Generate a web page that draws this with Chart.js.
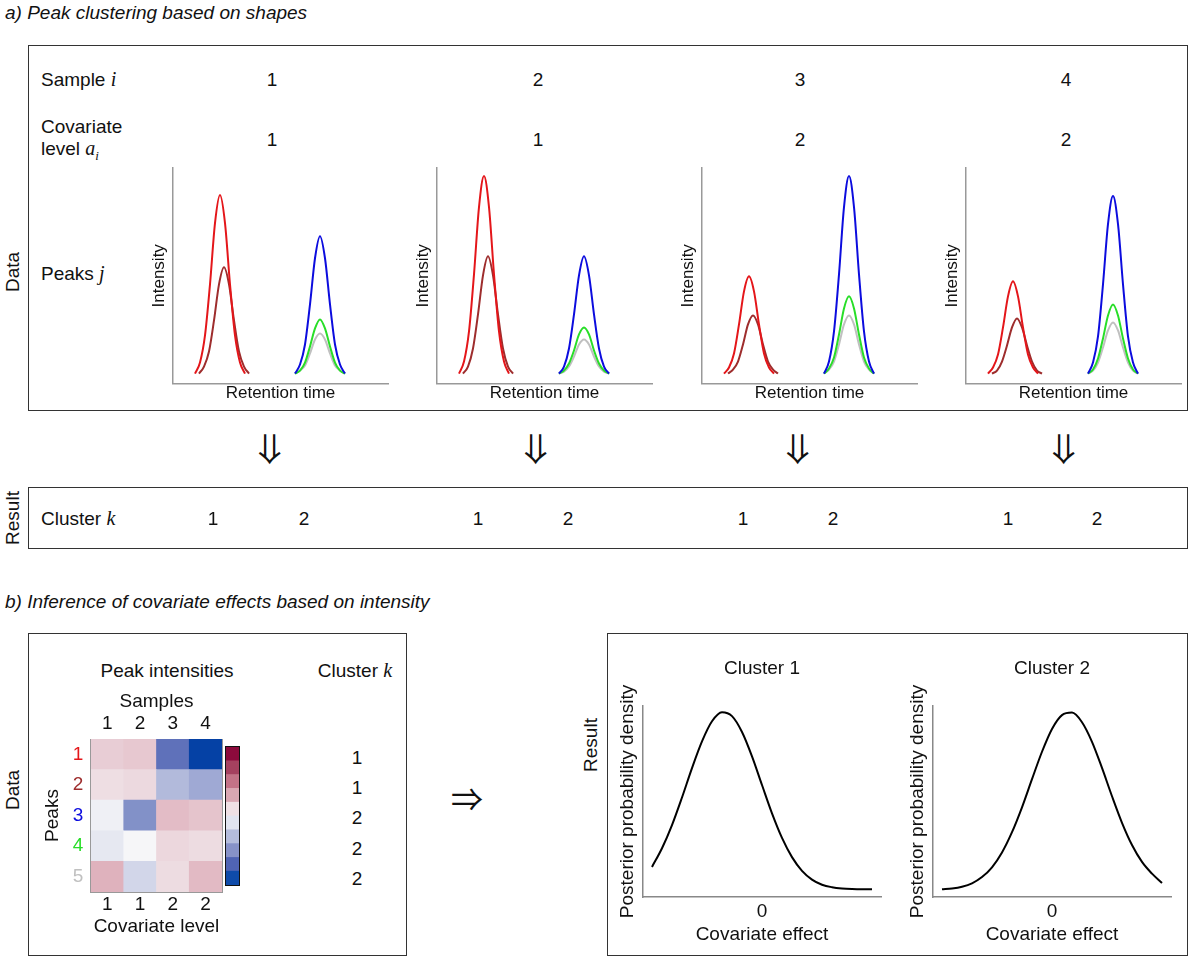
<!DOCTYPE html>
<html>
<head>
<meta charset="utf-8">
<script src="https://cdn.jsdelivr.net/npm/chart.js@4.4.1/dist/chart.umd.min.js"></script>
<style>
body{margin:0;background:#fff;}
#page{position:relative;width:1200px;height:959px;font-family:'Liberation Sans',Arial,sans-serif;font-size:19px;color:#111;overflow:hidden;}
.t{position:absolute;white-space:nowrap;transform:translate(-50%,-50%);line-height:1;}
.l{position:absolute;white-space:nowrap;transform:translate(0,-50%);line-height:1;}
.rot{position:absolute;white-space:nowrap;transform:translate(-50%,-50%) rotate(-90deg);line-height:1;}
.box{position:absolute;border:1px solid #333;}
.m{font-family:'Liberation Serif','DejaVu Serif',serif;font-style:italic;font-size:20px;}
.m sub{font-size:13px;}
.arr{position:absolute;white-space:nowrap;transform:translate(-50%,-50%);font-family:'Noto Sans CJK JP','DejaVu Sans';font-size:32px;line-height:1;}
.down{transform:translate(-50%,-50%) rotate(90deg);}
.cv{position:absolute;}
#cbar{position:absolute;left:225px;top:746px;width:13px;height:138px;border:1px solid #111;}
#cbar canvas{display:block;}
</style>
</head>
<body>
<div id="page">
  <div class="l" style="left:5px;top:12px;font-style:italic;">a) Peak clustering based on shapes</div>
  <div class="box" style="left:28px;top:45px;width:1158px;height:364px;"></div>
  <div class="rot" style="left:12px;top:272px;">Data</div>
  <div class="l" style="left:41px;top:79px;">Sample <span class="m">i</span></div>
  <div class="l" style="left:41px;top:126px;">Covariate</div>
  <div class="l" style="left:41px;top:150px;">level <span class="m">a<sub>i</sub></span></div>
  <div class="l" style="left:41px;top:273px;">Peaks <span class="m">j</span></div>

  <div class="box" style="left:28px;top:487px;width:1158px;height:60px;"></div>
  <div class="rot" style="left:12px;top:518px;">Result</div>
  <div class="l" style="left:41px;top:518px;">Cluster <span class="m">k</span></div>

  <div class="l" style="left:5px;top:601px;font-style:italic;">b) Inference of covariate effects based on intensity</div>
  <div class="box" style="left:28px;top:633px;width:377px;height:321px;"></div>
  <div class="rot" style="left:12px;top:790px;">Data</div>
  <div class="t" style="left:167px;top:670px;">Peak intensities</div>
  <div class="t" style="left:355px;top:670px;">Cluster <span class="m">k</span></div>
  <div class="arr" style="left:467px;top:797px;">&#8658;</div>
  <div class="box" style="left:607px;top:633px;width:579px;height:321px;"></div>
  <div class="rot" style="left:590px;top:745px;">Result</div>

  <canvas class="cv" id="peaks1" width="245" height="242" style="left:148px;top:166px;"></canvas>
  <canvas class="cv" id="peaks2" width="245" height="242" style="left:412px;top:166px;"></canvas>
  <canvas class="cv" id="peaks3" width="245" height="242" style="left:677px;top:166px;"></canvas>
  <canvas class="cv" id="peaks4" width="245" height="242" style="left:941px;top:166px;"></canvas>
  <canvas class="cv" id="heat" width="208" height="252" style="left:40px;top:686px;"></canvas>
  <div id="cbar"><canvas id="colorbar" width="13" height="138"></canvas></div>
  <canvas class="cv" id="post1" width="272" height="291" style="left:616px;top:655px;"></canvas>
  <canvas class="cv" id="post2" width="272" height="291" style="left:906px;top:655px;"></canvas>
</div>
<script>
// part a: the four samples
var sampleNames = ['1', '2', '3', '4'];
var sampleCovariate = ['1', '1', '2', '2'];
var sampleColumnX = [272, 538, 800, 1066];
var clusterPerSample = ['1', '2'];
var clusterColumnX = [[213, 304], [478, 568], [743, 833], [1008, 1097]];

// retention times of the sampled points (peak 1, peak 2, peaks 3-5)
var retentionFirst = [22, 27, 32, 37, 42, 47, 52, 57, 62, 67, 72];
var retentionFirstLate = [26, 31, 36, 41, 46, 51, 56, 61, 66, 71, 76];
var retentionSecond = [122, 127, 132, 137, 142, 147, 152, 157, 162, 167, 172];

var peakColors = ['rgb(228,22,26)', 'rgb(158,45,45)', 'rgb(12,12,222)', 'rgb(40,222,40)', 'rgb(192,192,192)'];

// intensity traces, peaks 1..5
var sample1Traces = [
	[0, 11, 38, 89, 150, 178, 150, 89, 38, 11, 0],
	[0, 7, 22, 53, 89, 106, 89, 53, 22, 7, 0],
	[0, 9, 29, 69, 115, 137, 115, 69, 29, 9, 0],
	[0, 3, 11, 27, 45, 54, 45, 27, 11, 3, 0],
	[0, 3, 8, 20, 34, 40, 34, 20, 8, 3, 0]
];
var sample2Traces = [
	[0, 12, 42, 99, 166, 197, 166, 99, 42, 12, 0],
	[0, 7, 25, 59, 98, 117, 98, 59, 25, 7, 0],
	[0, 7, 25, 59, 98, 117, 98, 59, 25, 7, 0],
	[0, 3, 10, 23, 39, 46, 39, 23, 10, 3, 0],
	[0, 2, 7, 17, 29, 34, 29, 17, 7, 2, 0]
];
var sample3Traces = [
	[0, 6, 20, 49, 82, 97, 82, 49, 20, 6, 0],
	[0, 4, 12, 29, 49, 58, 49, 29, 12, 4, 0],
	[0, 12, 42, 99, 166, 197, 166, 99, 42, 12, 0],
	[0, 5, 16, 39, 65, 77, 65, 39, 16, 5, 0],
	[0, 4, 12, 29, 49, 58, 49, 29, 12, 4, 0]
];
var sample4Traces = [
	[0, 6, 19, 46, 77, 92, 77, 46, 19, 6, 0],
	[0, 3, 12, 28, 46, 55, 46, 28, 12, 3, 0],
	[0, 11, 37, 89, 149, 177, 149, 89, 37, 11, 0],
	[0, 4, 15, 35, 58, 69, 58, 35, 15, 4, 0],
	[0, 3, 11, 26, 43, 51, 43, 26, 11, 3, 0]
];

// part b: peak intensity matrix (rows = peaks, columns = samples)
var peakLabels = ['1', '2', '3', '4', '5'];
var clusterOfPeak = ['1', '1', '2', '2', '2'];
var peakRowY = [757, 787, 817, 848, 878];
var heatValues = [
	[0.17, 0.19, -0.66, -1.0],
	[0.10, 0.12, -0.30, -0.38],
	[-0.03, -0.50, 0.24, 0.21],
	[-0.07, 0.0, 0.13, 0.11],
	[0.28, -0.16, 0.11, 0.25]
];
var scaleStops = [-1, -0.75, -0.5, -0.25, 0, 0.25, 0.5, 0.75, 1];
var scaleColors = [[5,65,165], [75,95,178], [130,145,200], [190,196,224], [246,246,248], [226,186,196], [200,120,140], [170,60,90], [140,10,60]];
var colorbarColors = ['#8c0a3c', '#a5415f', '#c37387', '#d9a7b2', '#efe0e4', '#e1e4ef', '#b4bcdc', '#8792c8', '#5064b4', '#0f4baa'];

// posterior densities of the covariate effect
var effectGrid = [-1.1, -1.0, -0.9, -0.8, -0.7, -0.6, -0.5, -0.4, -0.3, -0.2, -0.1, 0, 0.1, 0.2, 0.3, 0.4, 0.5, 0.6, 0.7, 0.8, 0.9, 1.0, 1.1];
var cluster1Density = [0.13, 0.235, 0.365, 0.52, 0.685, 0.835, 0.948, 0.999, 0.977, 0.888, 0.751, 0.590, 0.431, 0.293, 0.185, 0.108, 0.059, 0.030, 0.016, 0.009, 0.006, 0.005, 0.005];
var cluster2Density = [0.004, 0.009, 0.019, 0.038, 0.073, 0.128, 0.211, 0.325, 0.465, 0.623, 0.777, 0.905, 0.983, 0.997, 0.943, 0.833, 0.686, 0.527, 0.378, 0.253, 0.158, 0.092, 0.040];

Chart.defaults.font.family = "'Liberation Sans', Arial, sans-serif";
Chart.defaults.font.size = 19;
Chart.defaults.color = '#111';
Chart.defaults.animation = false;
Chart.defaults.plugins.legend.display = false;
Chart.defaults.plugins.tooltip.enabled = false;

var page = document.getElementById('page');
function addText(txt, x, y, cls) {
	var d = document.createElement('div');
	d.className = cls || 't';
	d.style.left = x + 'px';
	d.style.top = y + 'px';
	d.textContent = txt;
	page.appendChild(d);
	return d;
}

// numbers above the peak plots, arrows and cluster result row
sampleNames.forEach(function(s, i) {
	addText(s, sampleColumnX[i], 79);
	addText(sampleCovariate[i], sampleColumnX[i], 139);
	// the thin double arrow, turned to point down
	addText('\u21D2', sampleColumnX[i], 449, 'arr down');
	clusterPerSample.forEach(function(c, k) {
		addText(c, clusterColumnX[i][k], 518);
	});
});
peakLabels.forEach(function(p, r) {
	addText(clusterOfPeak[r], 357, peakRowY[r]);
});

function peakChart(id, traces) {
	var sets = traces.map(function(vals, j) {
		var times = j == 0 ? retentionFirst : (j == 1 ? retentionFirstLate : retentionSecond);
		return {
			label: 'Peak ' + (j + 1),
			data: times.map(function(t, k) { return {x: t, y: vals[k]}; }),
			borderColor: peakColors[j],
			borderWidth: 2,
			pointRadius: 0,
			fill: false,
			cubicInterpolationMode: 'monotone'
		};
	});
	new Chart(document.getElementById(id), {
		type: 'line',
		data: {datasets: sets},
		options: {
			responsive: false,
			layout: {padding: {left: 1.6, right: 5, top: 2, bottom: 4}},
			scales: {
				x: {type: 'linear', min: 0, max: 215,
					grid: {display: false, drawTicks: false},
					border: {color: '#999', width: 1.5},
					ticks: {display: false},
					title: {display: true, text: 'Retention time', font: {size: 17}, padding: {top: 0, bottom: 0}}},
				y: {min: -10, max: 205,
					grid: {display: false, drawTicks: false},
					border: {color: '#999', width: 1.5},
					ticks: {display: false},
					title: {display: true, text: 'Intensity', font: {size: 17}, padding: {top: 0, bottom: 3}}}
			}
		}
	});
}
peakChart('peaks1', sample1Traces);
peakChart('peaks2', sample2Traces);
peakChart('peaks3', sample3Traces);
peakChart('peaks4', sample4Traces);

function heatColor(v) {
	var i = 0;
	while (i < scaleStops.length - 2 && v > scaleStops[i + 1]) i++;
	var f = (v - scaleStops[i]) / (scaleStops[i + 1] - scaleStops[i]);
	var a = scaleColors[i], b = scaleColors[i + 1];
	return 'rgb(' + [0, 1, 2].map(function(c) { return Math.round(a[c] + (b[c] - a[c]) * f); }).join(',') + ')';
}

var heatSets = peakLabels.map(function(p, r) {
	return {
		label: 'Peak ' + p,
		data: sampleNames.map(function() { return 1; }),
		backgroundColor: heatValues[r].map(heatColor),
		borderWidth: 0,
		barPercentage: 1,
		categoryPercentage: 1
	};
}).reverse();

new Chart(document.getElementById('heat'), {
	type: 'bar',
	data: {labels: sampleNames, datasets: heatSets},
	options: {
		responsive: false,
		layout: {padding: {left: 1.6, right: 2, top: 3.8, bottom: 3.4}},
		scales: {
			x: {position: 'top', stacked: true,
				grid: {display: false, drawTicks: false},
				border: {color: '#999'},
				ticks: {padding: 3.6},
				title: {display: true, text: 'Samples', font: {lineHeight: 0.8}, padding: {top: 4, bottom: 0}}},
			x2: {type: 'category', labels: sampleCovariate, position: 'bottom', offset: true,
				grid: {display: false, drawTicks: false},
				border: {color: '#999'},
				ticks: {padding: 1.6},
				title: {display: true, text: 'Covariate level', font: {lineHeight: 0.8}, padding: {top: 1.4, bottom: 0}}},
			y: {stacked: true, min: 0, max: 5, display: false},
			y2: {type: 'category', labels: peakLabels, position: 'left', offset: true,
				grid: {display: false, drawTicks: false},
				border: {color: '#999'},
				ticks: {padding: 7.7, color: peakColors},
				title: {display: true, text: 'Peaks', padding: {top: 0, bottom: 0.6}}},
			yr: {type: 'category', labels: peakLabels, position: 'right', offset: true,
				grid: {display: false, drawTicks: false},
				border: {color: '#999'},
				ticks: {display: false},
				title: {display: true, text: ' ', font: {size: 20}, padding: 0}}
		}
	}
});

new Chart(document.getElementById('colorbar'), {
	type: 'bar',
	data: {
		labels: [''],
		datasets: colorbarColors.slice().reverse().map(function(c) {
			return {data: [1], backgroundColor: c, borderWidth: 0, barPercentage: 1, categoryPercentage: 1};
		})
	},
	options: {
		responsive: false,
		layout: {padding: 0},
		scales: {
			x: {stacked: true, display: false},
			y: {stacked: true, display: false, min: 0, max: colorbarColors.length}
		}
	}
});

function posteriorChart(id, title, density) {
	new Chart(document.getElementById(id), {
		type: 'line',
		data: {datasets: [{
			label: title,
			data: effectGrid.map(function(x, k) { return {x: x, y: density[k]}; }),
			borderColor: '#000',
			borderWidth: 2,
			pointRadius: 0,
			fill: false,
			cubicInterpolationMode: 'monotone'
		}]},
		options: {
			responsive: false,
			layout: {padding: {left: 0.6, right: 7, top: 2.6, bottom: 3.4}},
			plugins: {
				title: {display: true, text: title, fullSize: false, color: '#111',
					font: {size: 19, weight: 'normal'}, padding: {top: 0, bottom: 25.6}}
			},
			scales: {
				x: {type: 'linear', min: -1.19, max: 1.19,
					grid: {display: false, drawTicks: false},
					border: {color: '#888', width: 1.5},
					afterBuildTicks: function(s) { s.ticks = [{value: 0}]; },
					ticks: {padding: 3.6},
					title: {display: true, text: 'Covariate effect', font: {lineHeight: 0.8}, padding: {top: 0.4, bottom: 0}}},
				y: {min: -0.039, max: 1.034,
					grid: {display: false, drawTicks: false},
					border: {color: '#888', width: 1.5},
					ticks: {display: false},
					title: {display: true, text: 'Posterior probability density', padding: {top: 0, bottom: 3.6}}}
			}
		}
	});
}
posteriorChart('post1', 'Cluster 1', cluster1Density);
posteriorChart('post2', 'Cluster 2', cluster2Density);
</script>
</body>
</html>
